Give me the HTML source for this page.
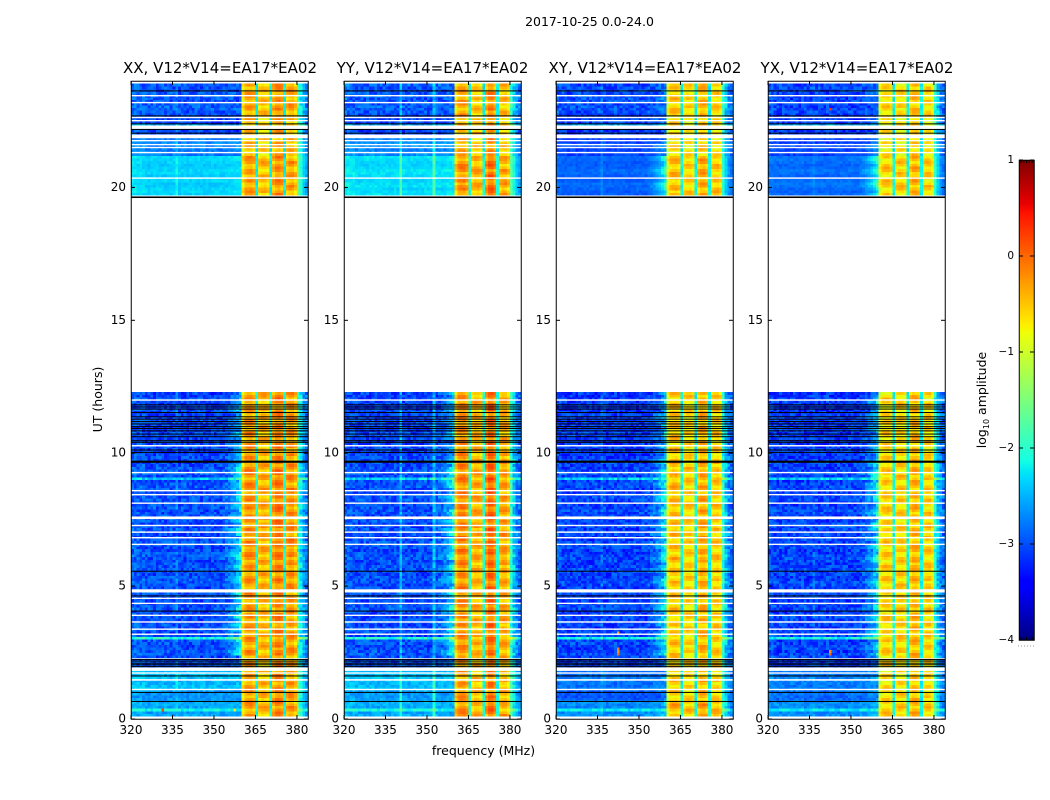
<!DOCTYPE html>
<html>
<head>
<meta charset="utf-8">
<title>2017-10-25 dynamic spectra</title>
<style>
html,body{margin:0;padding:0;background:#fff;width:1050px;height:800px;overflow:hidden}
svg{display:block;font-family:"DejaVu Sans","Liberation Sans",sans-serif;fill:#000}
</style>
</head>
<body>
<svg id="chart" xmlns="http://www.w3.org/2000/svg" width="1050" height="800" viewBox="0 0 1050 800">
  <rect width="1050" height="800" fill="#fff"/>
  <g id="panels"></g>
  <text x="589.5" y="26" font-size="12.5" text-anchor="middle">2017-10-25 0.0-24.0</text>
  <text x="220" y="73" font-size="15" text-anchor="middle">XX, V12*V14=EA17*EA02</text>
  <text x="432.5" y="73" font-size="15" text-anchor="middle">YY, V12*V14=EA17*EA02</text>
  <text x="645" y="73" font-size="15" text-anchor="middle">XY, V12*V14=EA17*EA02</text>
  <text x="857" y="73" font-size="15" text-anchor="middle">YX, V12*V14=EA17*EA02</text>
  <text x="483.5" y="755" font-size="12.5" text-anchor="middle">frequency (MHz)</text>
  <text transform="translate(102,399.5) rotate(-90)" font-size="12.5" text-anchor="middle">UT (hours)</text>
  <text transform="translate(986,400) rotate(-90)" font-size="12.5" text-anchor="middle">log<tspan font-size="8" dy="3">10</tspan><tspan dy="-3"> amplitude</tspan></text>
  <g id="colorbar"></g>
</svg>
<script>
// ---------- axis data ----------
const freqTicks = [320, 335, 350, 365, 380];
const hourTicks = [0, 5, 10, 15, 20];
const colorTicks = [1, 0, -1, -2, -3, -4];
const polNames = ["xx", "yy", "xy", "yx"];

// ---------- reference spectra: log10 amplitude per 1 MHz channel, 320..383 MHz ----------
const spectrumXX = [-2.9,-2.9,-2.95,-2.95,-2.95,-3,-3,-3,-3,-3,-3,-3,-3,-3,-3,-3,-2.8,-3,-3,-3,-3,-3,-3,-3,-3,-3,-3,-3,-3,-3,-3,-3,-3,-3,-3,-3,-3,-3,-3,-3,
  -0.7,-0.35,-0.3,-0.3,-0.4,-2.2,-0.55,-0.45,-0.45,-0.55,-2.2,-0.4,-0.22,-0.2,-0.3,-2.2,-0.45,-0.3,-0.3,-0.5,-1.95,-2.25,-2.6,-2.8];
const spectrumYY = [-2.9,-2.9,-2.95,-2.95,-3,-3,-3,-3,-3,-3,-3,-3,-3,-3,-3,-3,-3,-3,-3,-3,-2.5,-3,-3,-3,-3,-3,-3,-3,-3,-3,-3,-3,-2.5,-3,-3,-3,-3,-3,-3,-3,
  -0.6,-0.3,-0.25,-0.25,-0.4,-2.1,-0.55,-0.45,-0.45,-0.55,-2.15,-0.35,-0.1,-0.1,-0.3,-2.15,-0.5,-0.4,-0.4,-0.6,-1.9,-2.4,-2.7,-2.85];
const spectrumXY = [-2.95,-2.95,-3,-3,-3,-3,-3,-3,-3,-3,-3,-3,-3,-3,-3,-3,-2.85,-3,-3,-3,-3,-3,-3,-3,-3,-3,-3,-3,-3,-3,-3,-3,-3,-3,-3,-3,-3,-3,-3,-3,
  -0.85,-0.55,-0.5,-0.5,-0.6,-2.2,-0.7,-0.6,-0.6,-0.7,-2.2,-0.55,-0.4,-0.4,-0.5,-2.2,-0.65,-0.55,-0.55,-0.7,-2.0,-2.4,-2.7,-2.85];
const spectrumYX = [-2.95,-2.95,-3,-3,-3,-3,-3,-3,-3,-3,-3,-3,-3,-3,-3,-3,-2.9,-3,-3,-3,-3,-3,-3,-3,-3,-3,-3,-3,-3,-3,-3,-3,-3,-3,-3,-3,-3,-3,-3,-3,
  -0.9,-0.65,-0.6,-0.6,-0.7,-2.2,-0.7,-0.6,-0.6,-0.7,-2.2,-0.6,-0.45,-0.45,-0.55,-2.2,-0.7,-0.6,-0.6,-0.8,-2.0,-2.4,-2.7,-2.85];
const edgeRamp = [0.06, 0.14, 0.22, 0.32, 0.44, 0.6, 0.8]; // lift across 353..359 MHz, log10 units

// ---------- time segments (start hour) and per-segment levels ----------
const segmentStart = [0.1, 0.7, 1.1, 1.9, 2.4, 6.0, 9.7, 19.7, 21.2, 22.0, 22.7];
const floorXX = [0.42, 0.38, 0.55, 0, 0, 0, -0.05, 0.65, 0.25, -0.1, 0.05];
const floorYY = [0.45, 0.42, 0.55, 0, 0, 0, -0.05, 0.7, 0.3, -0.1, 0.05];
const floorXY = [0.3, 0.05, 0.2, -0.05, -0.05, -0.05, -0.1, 0.1, -0.05, -0.1, 0];
const floorYX = [0.3, 0.15, 0.25, -0.05, -0.05, -0.05, -0.1, 0.15, -0.05, -0.1, -0.05];
const bandXX = [0.05, 0.05, 0, 0, 0.05, 0.1, 0.05, 0, -0.1, -0.1, 0];
const bandYY = [0.05, 0, -0.05, 0, 0.05, 0.1, 0.05, 0.05, -0.1, -0.1, -0.05];
const bandXY = [0.1, 0, -0.05, 0, 0, 0.05, 0, 0.05, -0.1, -0.1, 0];
const bandYX = [0.05, 0, -0.05, 0, 0.05, 0.05, 0, 0.05, -0.1, -0.1, 0];
const slopeXX = [0, 0, 0, 0.3, 1, 1, 0.7, 0.1, 0.1, 0, 0];
const slopeYY = [0, 0, 0, 0.3, 1, 1, 0.7, 0.1, 0.1, 0, 0];
const slopeXY = [0.3, 0.2, 0.2, 0.3, 1, 1, 0.8, 1, 0.5, 0.2, 0.3];
const slopeYX = [0.3, 0.2, 0.2, 0.3, 1, 1, 0.8, 1, 0.5, 0.2, 0.3];
const noiseScale = [0.4, 0.4, 0.4, 0.65, 0.65, 0.65, 0.65, 0.22, 0.4, 0.65, 0.65];

// ---------- fine texture ----------
const speckle = [0.12,-0.31,0.25,-0.08,0.41,-0.22,0.03,-0.38,0.18,0.29,-0.15,-0.27,0.36,0.07,-0.42,0.21,-0.05,0.33,-0.19,0.1,
  -0.35,0.27,-0.11,0.02,0.38,-0.24,0.15,-0.4,0.22,-0.02,0.31,-0.29,0.06,0.17,-0.13,-0.36,0.43,-0.07,0.24,-0.2,
  0.09,-0.33,0.3,-0.16,0.01,0.35,-0.26,0.13,-0.41,0.2,0.28,-0.09,-0.3,0.39,0.04,-0.18,0.16,-0.37,0.26,-0.03,
  0.34,-0.23,0.11,-0.12,-0.39,0.23,0.05,0.32,-0.28,0.14,-0.06,0.4,-0.34,0.19,-0.17,0.08,-0.25,0.37,-0.01,-0.43,
  0.29,0.1,-0.21,0.25,-0.32,0.0,0.42,-0.14,-0.04,0.17,-0.37,0.33,0.06,-0.27,0.21,-0.1,0.3,-0.2,0.15,-0.35,0.08];
const rowStripe = [0.2,0.12,-0.18,-0.3,0.05,0.22,0.26,-0.1,-0.34,-0.12,0.18,0.3,0.08,-0.22,-0.28,0.1,0.24,-0.05,-0.32,0.02,0.28,
  0.16,-0.2,-0.26,0.14,0.3,-0.08,-0.36,-0.04,0.2,0.24,-0.14,-0.3,0.06,0.26,0.1,-0.24,-0.16,0.22,0.04,-0.28];

// ---------- rows bright across the low band ----------
const brightRowHour = [0.3, 3.0, 9.0, 22.3];
const brightRowLift = [0.5, 0.9, 0.7, 0.6];

// ---------- isolated hot cells ----------
const hotPanel = [2, 2, 2, 2, 3, 3, 0, 0, 3];
const hotChannel = [22, 22, 22, 22, 22, 22, 11, 37, 22];
const hotHour = [2.4, 2.5, 2.6, 3.2, 2.4, 2.5, 0.3, 0.3, 22.9];
const hotValue = [0.0, -0.2, -0.1, -0.3, 0.0, -0.2, 0.2, -0.7, 0.3];

// ---------- data coverage and flagged rows (hours) ----------
const dataSpanStart = [0.1, 19.7];
const dataSpanEnd = [12.3, 23.9];
const whiteRowHours = [23.45,23.19,22.63,22.51,21.76,21.61,21.5,21.31,20.35,12.0,10.28,9.27,8.59,8.44,8.12,7.28,7.03,6.82,6.57,4.54,4.35,3.9,3.65,3.38,3.19,2.26,1.73,1.11];
const whiteBandFrom = [22.2, 21.85, 7.52, 4.76, 1.81, 1.44];
const whiteBandTo = [22.33, 21.99, 7.62, 4.88, 1.94, 1.5];
const blackRowHours = [23.63,22.69,22.39,22.18,22.04,11.82,11.74,11.66,11.53,11.37,11.28,11.19,11.1,11.0,10.93,10.84,10.72,10.62,10.47,10.41,10.12,10.03,5.56,4.63,4.06,2.24,2.18,2.1,2.04,1.97,1.62,1.0,0.66];
const blackBandFrom = [19.6, 9.64];
const blackBandTo = [19.66, 9.72];

const spectra = [spectrumXX, spectrumYY, spectrumXY, spectrumYX];
const floors = [floorXX, floorYY, floorXY, floorYX];
const bands = [bandXX, bandYY, bandXY, bandYX];
const slopes = [slopeXX, slopeYY, slopeXY, slopeYX];

// ---------- layout & scales ----------
const NS = "http://www.w3.org/2000/svg";
const panelLeft = [131, 344, 556, 768];
const panelWidth = 177, plotTop = 81, plotBottom = 719, hourPx = 26.58;
const freqMin = 320, freqMax = 384, rowStep = 0.1;
function xScale(p, mhz) { return panelLeft[p] + (mhz - freqMin) * panelWidth / (freqMax - freqMin); }
function yScale(h) { return plotBottom - h * hourPx; }
function ramp(v) { return Math.max(0, Math.min(1, v)); }
function jet(v) {
  const t = ramp((v + 4) / 5);
  let r, g, b;
  r = t < 0.35 ? 0 : t < 0.66 ? (t - 0.35) / 0.31 : t < 0.89 ? 1 : 1 - 0.5 * (t - 0.89) / 0.11;
  g = t < 0.125 ? 0 : t < 0.375 ? (t - 0.125) / 0.25 : t < 0.64 ? 1 : t < 0.91 ? 1 - (t - 0.64) / 0.27 : 0;
  b = t < 0.11 ? 0.5 + 0.5 * t / 0.11 : t < 0.34 ? 1 : t < 0.65 ? 1 - (t - 0.34) / 0.31 : 0;
  return "rgb(" + Math.round(r * 255) + "," + Math.round(g * 255) + "," + Math.round(b * 255) + ")";
}
function segmentOf(h) {
  let s = 0;
  for (let i = 0; i < segmentStart.length; i++) if (h >= segmentStart[i] - 1e-6) s = i;
  return s;
}
function cellValue(p, ch, row, h) {
  const s = segmentOf(h);
  const base = spectra[p][ch];
  const tex = speckle[(ch * ch * 7 + row * row * 3 + ch * row * 11 + ch * 13 + row * 29 + p * 41) % speckle.length];
  if (ch >= 40 && ch < 60) {
    const sub = ch < 45 ? 0 : ch < 50 ? 1 : ch < 55 ? 2 : 3;
    const stripe = rowStripe[(row + sub * 7 + p * 3) % rowStripe.length];
    const notch = (ch === 45 || ch === 50 || ch === 55) ? 0.2 : 0.8;
    return base + bands[p][s] + stripe * notch + tex * 0.15;
  }
  const lineStripe = rowStripe[(row + p * 5) % rowStripe.length];
  let v = base + (ch >= 60 ? floors[p][s] * 0.4 : floors[p][s]);
  if (ch >= 33 && ch < 40) v += edgeRamp[ch - 33] * slopes[p][s] * (1 + lineStripe);
  v += tex * noiseScale[s] + lineStripe * 0.15;
  for (let i = 0; i < brightRowHour.length; i++) {
    if (Math.abs(brightRowHour[i] - h) < rowStep / 2) v += brightRowLift[i];
  }
  return v;
}

function addRect(parent, x, y, w, h, fill) {
  const r = document.createElementNS(NS, "rect");
  r.setAttribute("x", x.toFixed(2));
  r.setAttribute("y", y.toFixed(2));
  r.setAttribute("width", w.toFixed(2));
  r.setAttribute("height", h.toFixed(2));
  r.setAttribute("fill", fill);
  parent.appendChild(r);
  return r;
}
function addText(parent, x, y, str, size, anchor) {
  const t = document.createElementNS(NS, "text");
  t.setAttribute("x", x);
  t.setAttribute("y", y);
  t.setAttribute("font-size", size);
  t.setAttribute("text-anchor", anchor);
  t.textContent = str;
  parent.appendChild(t);
  return t;
}
function addLine(parent, x1, y1, x2, y2, stroke, sw) {
  const l = document.createElementNS(NS, "line");
  l.setAttribute("x1", x1);
  l.setAttribute("y1", y1);
  l.setAttribute("x2", x2);
  l.setAttribute("y2", y2);
  l.setAttribute("stroke", stroke || "#000");
  l.setAttribute("stroke-width", sw || 1);
  parent.appendChild(l);
  return l;
}

const panelsRoot = document.getElementById("panels");
const chanCount = freqMax - freqMin;
const rowCount = Math.round(24 / rowStep);
for (let p = 0; p < 4; p++) {
  const g = document.createElementNS(NS, "g");
  
  
  panelsRoot.appendChild(g);

  const cells = document.createElementNS(NS, "g");
  cells.setAttribute("shape-rendering", "crispEdges");
  
  
  g.appendChild(cells);

  const chW = xScale(p, 1 + freqMin) - xScale(p, freqMin);
  for (let row = 0; row < rowCount; row++) {
    const h = row * rowStep;
    let inside = false;
    for (let k = 0; k < dataSpanStart.length; k++) {
      if (h >= dataSpanStart[k] - 1e-6 && h < dataSpanEnd[k] - 1e-6) inside = true;
    }
    if (!inside) continue;
    for (let ch = 0; ch < chanCount; ch++) {
      let v = cellValue(p, ch, row, h);
      for (let q = 0; q < hotPanel.length; q++) {
        if (hotPanel[q] === p && hotChannel[q] === ch && Math.abs(hotHour[q] - h) < rowStep / 2) v = hotValue[q];
      }
      const c = addRect(cells, xScale(p, freqMin + ch), yScale(h + rowStep), chW + 0.3, rowStep * hourPx + 0.3, jet(v));
      
      
    }
  }

  const flags = document.createElementNS(NS, "g");
  
  
  g.appendChild(flags);
  const L = panelLeft[p];
  whiteRowHours.forEach(function (h) {
    const r = addRect(flags, L, yScale(h) - 0.7, panelWidth, 1.4, "#fff");
    
    
  });
  whiteBandFrom.forEach(function (h, i) {
    const r = addRect(flags, L, yScale(whiteBandTo[i]), panelWidth, (whiteBandTo[i] - h) * hourPx, "#fff");
    
    
  });
  blackRowHours.forEach(function (h) {
    const r = addRect(flags, L, yScale(h) - 0.5, panelWidth, 1, "#000");
    
    
  });
  blackBandFrom.forEach(function (h, i) {
    const r = addRect(flags, L, yScale(blackBandTo[i]), panelWidth, (blackBandTo[i] - h) * hourPx, "#000");
    
    
  });

  // frame
  const frame = document.createElementNS(NS, "rect");
  frame.setAttribute("x", L + 0.25);
  frame.setAttribute("y", plotTop + 0.25);
  frame.setAttribute("width", panelWidth);
  frame.setAttribute("height", plotBottom - plotTop);
  frame.setAttribute("fill", "none");
  frame.setAttribute("stroke", "#000");
  frame.setAttribute("stroke-width", "1");
  
  
  g.appendChild(frame);

  // ticks & labels
  const ticks = document.createElementNS(NS, "g");
  
  
  g.appendChild(ticks);
  freqTicks.forEach(function (f) {
    const x = xScale(p, f);
    addLine(ticks, x, plotBottom, x, plotBottom - 4);
    addLine(ticks, x, plotTop, x, plotTop + 4);
    const t = addText(ticks, x, plotBottom + 15, String(f), 12, "middle");
    
    
  });
  hourTicks.forEach(function (h) {
    const y = yScale(h);
    addLine(ticks, L, y, L + 4, y);
    addLine(ticks, L + panelWidth, y, L + panelWidth - 4, y);
    const t = addText(ticks, L - 5, y + 3.5, String(h), 12, "end");
    
    
  });
}

// ---------- colorbar ----------
const cb = document.getElementById("colorbar");
const cbLeft = 1019, cbWidth = 15, cbTop = 160, cbBottom = 640;
const cbMin = -4, cbMax = 1, cbSteps = 240;
function cbScale(v) { return cbBottom - (v - cbMin) / (cbMax - cbMin) * (cbBottom - cbTop); }
const cbCells = document.createElementNS(NS, "g");
cbCells.setAttribute("shape-rendering", "crispEdges");


cb.appendChild(cbCells);
for (let i = 0; i < cbSteps; i++) {
  const v0 = cbMin + (cbMax - cbMin) * i / cbSteps;
  const v1 = cbMin + (cbMax - cbMin) * (i + 1) / cbSteps;
  addRect(cbCells, cbLeft, cbScale(v1), cbWidth, cbScale(v0) - cbScale(v1) + 0.3, jet((v0 + v1) / 2));
}
const cbFrame = document.createElementNS(NS, "rect");
cbFrame.setAttribute("x", cbLeft + 0.25);
cbFrame.setAttribute("y", cbTop + 0.25);
cbFrame.setAttribute("width", cbWidth);
cbFrame.setAttribute("height", cbBottom - cbTop);
cbFrame.setAttribute("fill", "none");
cbFrame.setAttribute("stroke", "#000");


cb.appendChild(cbFrame);
colorTicks.forEach(function (v) {
  const y = cbScale(v);
  addLine(cb, cbLeft, y, cbLeft + 4, y);
  addLine(cb, cbLeft + cbWidth, y, cbLeft + cbWidth - 4, y);
  const t = addText(cb, cbLeft - 5, y + 3, String(v).replace("-", "\u2212"), 10.5, "end");
  
  
});
for (let i = 0; i < 5; i++) {
  const x = cbLeft + 2 + i * 2.8;
  addLine(cb, x, cbTop, x, cbTop + 3);
  addLine(cb, x, cbBottom, x, cbBottom - 3);
}
const dots = addLine(cb, 1018, 646, 1035, 646, "#999", 1);
dots.setAttribute("stroke-dasharray", "1 2");


</script>
</body>
</html>
